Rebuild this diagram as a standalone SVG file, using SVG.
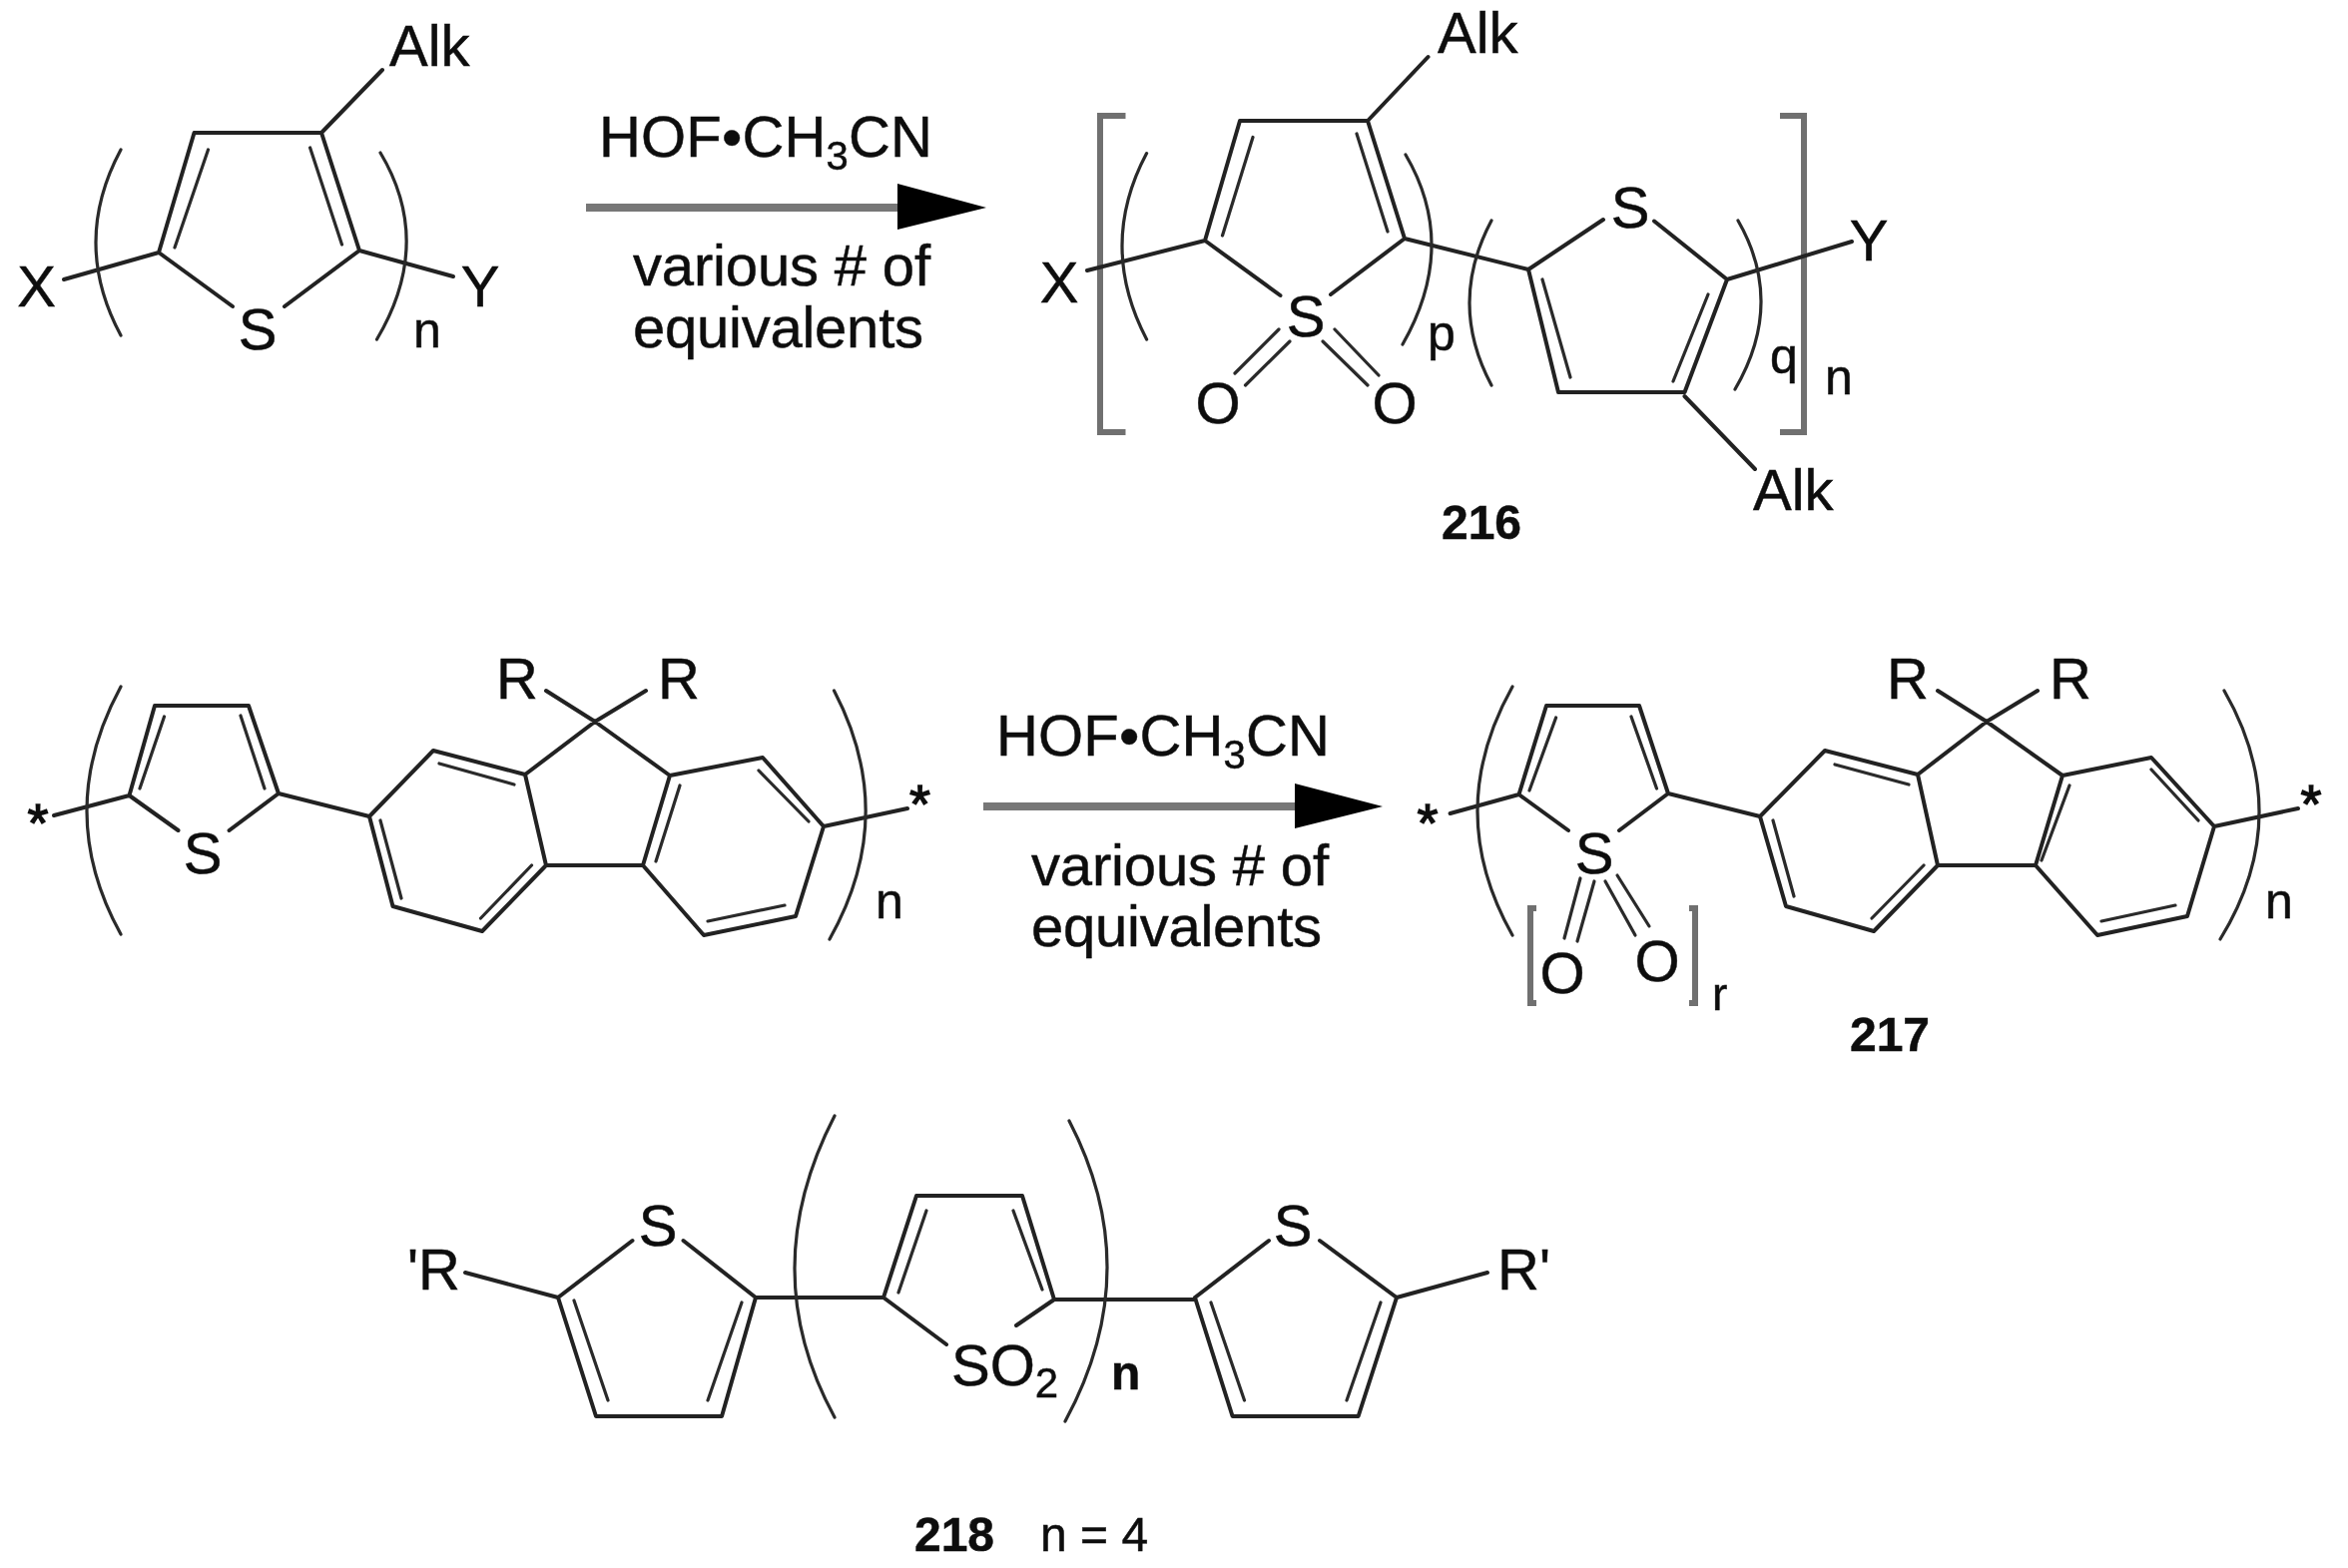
<svg xmlns="http://www.w3.org/2000/svg" width="2352" height="1571" viewBox="0 0 2352 1571">
<style>
text{font-family:"Liberation Sans",Arial,sans-serif;font-size:58px;fill:#111;stroke:#111;stroke-width:0.5}
.sm{font-size:50px}
.b{font-size:48px;font-weight:bold}
.c{text-anchor:middle}
.st{font-size:46px}
.star{font-size:54px;stroke-width:1.4}
.bond{fill:none;stroke:#222;stroke-width:4;stroke-linejoin:round;stroke-linecap:round}
.thin{fill:none;stroke:#2a2a2a;stroke-width:3.2;stroke-linecap:round}
.paren{fill:none;stroke:#2a2a2a;stroke-width:3.2;stroke-linecap:round}
.brk{fill:none;stroke:#707070;stroke-width:6}
.shaft{stroke:#777;stroke-width:8;fill:none}
.head{fill:#000}
</style>
<defs><filter id="soft" x="-2%" y="-2%" width="104%" height="104%"><feGaussianBlur stdDeviation="0.7"/></filter></defs>
<rect width="2352" height="1571" fill="#fff"/>
<g filter="url(#soft)">
<g id="polymer-start-1">
<path class="bond" d="M159,253L194.500,133H322L360,251M322,133L383,70M64,280L159,253L233,307M360,251L285,307M360,251L454,277"/>
<path class="thin" d="M208.500,150L175,248M310.600,148L342.500,245"/>
<path class="paren" d="M121,150Q71,243 121,336M381,153Q435,243 377.500,340"/>
<text x="390" y="66">Alk</text><text x="36.500" y="307" class="c">X</text><text x="258" y="350" class="c">S</text><text x="481" y="307" class="c">Y</text><text x="414" y="348" class="sm">n</text>
</g>
<g id="reaction-arrow-1">
<path class="shaft" d="M587,208H899"/><path class="head" d="M899,184L988,208L899,230Z"/>
<text x="600" y="157" textLength="334" lengthAdjust="spacing">HOF•CH<tspan font-size="40" dy="13">3</tspan><tspan dy="-13">CN</tspan></text>
<text x="634" y="286" textLength="298" lengthAdjust="spacing">various # of</text>
<text x="634" y="348" textLength="291" lengthAdjust="spacing">equivalents</text>
</g>
<g id="product-216">
<path class="brk" d="M1127.500,116H1102V433H1127.500M1783,116H1807V433H1783"/>
<path class="bond" d="M1207,241L1242,121H1370L1407,239M1370,121L1430.500,57M1089,271L1207,241L1282.500,296M1407,239L1333,295M1407,239L1531,270L1561,393H1687.500L1730,280M1531,270L1606,220M1730,280L1657,221.500M1730,280L1855,242M1687.500,397L1758,470"/>
<path class="thin" d="M1255,137.500L1224.500,236M1359,134L1390,232M1545,280L1573,378M1711,295L1676,382"/>
<path class="thin" d="M1281,330L1237,374M1292,342L1247.500,386M1337,330L1381,376M1325,342L1370,386"/>
<path class="paren" d="M1148.600,153.600Q1099.400,246 1148.600,340M1408,155Q1461.500,246 1405,345M1494,221Q1450,303.600 1494,386M1741,221Q1788.500,303.600 1738,390"/>
<text x="1440" y="53">Alk</text><text x="1061" y="303" class="c">X</text><text x="1308" y="337" class="c">S</text><text x="1633" y="228" class="c">S</text><text x="1872" y="261" class="c">Y</text>
<text x="1220" y="424" class="c">O</text><text x="1397" y="424" class="c">O</text>
<text x="1756" y="511">Alk</text><text x="1430" y="351" class="sm">p</text><text x="1773" y="374" class="sm">q</text><text x="1828" y="395" class="sm">n</text>
<text x="1484" y="540" class="b c">216</text>
</g>
<g id="polymer-start-2">
<path class="bond" d="M129.500,797L155,707H249L279,795M54,817L129.500,797L178.500,832M279,795L229.600,832M279,795L370,818L434,752L526,776L547,867L483,933L393.500,908L370,818M547,692L596,723L647,692M526,776L596,723L671,777L644,867H547M671,777L764,759L825,828L797,918L705,937L644,867M825,828L909,810"/>
<path class="thin" d="M164.500,718L140,790M241,717L265,790M440,765L515,786M532.500,867L481.500,920M402,900L381,822M681,787L657,863M760,772L810,823M786,907L709,923"/>
<path class="paren" d="M121,688Q53,813 121,936M835.500,692Q901,817 831,941"/>
<text x="38" y="843" class="c star">*</text><text x="921.500" y="824" class="c star">*</text><text x="203" y="875" class="c">S</text><text x="497" y="700">R</text><text x="659" y="700">R</text><text x="877" y="920" class="sm">n</text>
</g>
<g id="reaction-arrow-2">
<path class="shaft" d="M985,808H1297"/><path class="head" d="M1297,785L1385,808L1297,830Z"/>
<text x="998" y="757" textLength="334" lengthAdjust="spacing">HOF•CH<tspan font-size="40" dy="13">3</tspan><tspan dy="-13">CN</tspan></text>
<text x="1033" y="887" textLength="298" lengthAdjust="spacing">various # of</text>
<text x="1033" y="948" textLength="291" lengthAdjust="spacing">equivalents</text>
</g>
<g id="product-217">
<path class="bond" d="M1521.500,796L1549,707H1642L1671,795M1452.600,815L1521.500,796L1571,832M1671,795L1622,832M1671,795L1763,818L1828,752L1921,776L1941,867L1877,933L1789,908L1763,818M1941,692L1990,723L2041,692M1921,776L1990,723L2066,777L2039,867H1941M2066,777L2155,759L2218,828L2191,918L2101,937L2039,867M2218,828L2302,810"/>
<path class="thin" d="M1558.600,719L1532,792M1634,718L1659.500,790M1838,766L1912,786M1927,867L1875,920M1797,898L1776,822M2073,787L2045,862M2155,771L2202,822M2179,907L2105,923"/>
<path class="thin" d="M1583,880L1567,940M1597,883L1580,943M1608,883L1638,937M1620,877L1652,928"/>
<path class="paren" d="M1515,688Q1445,813 1515,937M2228,692Q2300,817 2224,941"/>
<path class="brk" d="M1539,910H1533V1005H1539M1692,910H1698V1005H1692"/>
<text x="1430" y="843" class="c star">*</text><text x="2315" y="824" class="c star">*</text><text x="1597" y="875" class="c">S</text><text x="1890" y="700">R</text><text x="2053" y="700">R</text>
<text x="1565" y="995" class="c">O</text><text x="1660" y="983" class="c">O</text><text x="1715" y="1012" class="st">r</text><text x="2269" y="920" class="sm">n</text>
<text x="1893" y="1053" class="b c">217</text>
</g>
<g id="compound-218">
<path class="bond" d="M559,1300L597,1419H723L757,1300M559,1300L633.500,1243M757,1300L684.500,1243M466,1275L559,1300M757,1300H885M885,1300L918,1198H1024L1056,1302M885,1300L948,1347M1056,1302L1018,1328M1056,1302H1197M1197,1300L1234.600,1419H1360.600L1399,1300M1197,1300L1271,1243M1399,1300L1322,1243M1399,1300L1490,1275"/>
<path class="thin" d="M575,1303L609,1403M743,1305L709,1403M928,1213L900,1295M1015,1213L1044,1292M1213,1305L1246.500,1403M1383,1305L1349,1403"/>
<path class="paren" d="M836,1118Q756,1273 836,1420M1071,1123Q1149,1273 1067,1424"/>
<text x="408" y="1292">'R</text><text x="659" y="1248" class="c">S</text><text x="1295" y="1248" class="c">S</text><text x="1500" y="1292">R'</text>
<text x="953" y="1388">SO<tspan font-size="42" dy="12">2</tspan></text>
<text x="1113" y="1392" class="b">n</text>
<text x="956" y="1554" class="b c">218</text><text x="1042" y="1554" class="b" style="font-weight:normal">n = 4</text>
</g>
</g>
</svg>
